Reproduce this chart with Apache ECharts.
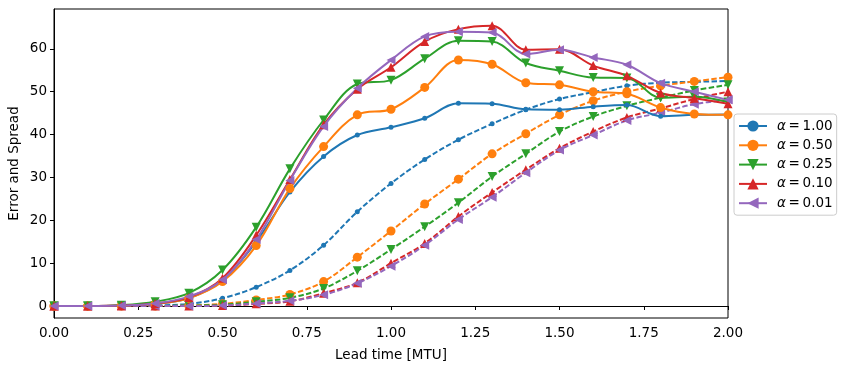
<!DOCTYPE html>
<html>
<head>
<meta charset="utf-8">
<script src="https://cdn.jsdelivr.net/npm/echarts@6/dist/echarts.min.js"></script>
<style>html,body{margin:0;padding:0;background:#fff;}#c{width:847px;height:370px;}</style>
</head>
<body>
<div id="c"></div>
<script>
var leadTime = [0.0,0.1,0.2,0.3,0.4,0.5,0.6,0.7,0.8,0.9,1.0,1.1,1.2,1.3,1.4,1.5,1.6,1.7,1.8,1.9,2.0];
var alphaLabels = ['1.00','0.50','0.25','0.10','0.01'];
var xTicks = [0,0.25,0.5,0.75,1.0,1.25,1.5,1.75,2.0];
var yTicks = [0,10,20,30,40,50,60];

// Error (solid)
var errA100 = [0,0,0.1,0.5,1.8,6.0,15.0,26.6,34.9,39.9,41.7,43.8,47.3,47.2,45.9,45.8,46.5,46.9,44.3,44.6,44.7];
var errA050 = [0,0,0.1,0.5,1.8,5.7,14.1,27.4,37.2,44.6,45.9,51.0,57.4,56.4,52.1,51.6,50.0,49.5,46.3,44.8,44.6];
var errA025 = [0,0,0.2,1.0,3.0,8.4,18.4,32.0,43.4,51.8,52.7,57.7,61.9,61.7,56.7,54.9,53.3,53.2,48.6,48.8,47.6];
var errA010 = [0,0,0.1,0.6,2.0,6.5,16.5,29.5,42.3,50.6,55.7,61.7,64.6,65.4,59.8,59.9,56.1,53.7,49.7,48.5,47.2];
var errA001 = [0,0,0.1,0.6,2.2,6.1,15.5,29.3,41.9,50.8,57.4,62.9,64.0,63.8,58.8,59.8,58.0,56.3,52.0,50.0,48.1];

// Spread (dashed)
var sprA100 = [0,0,0,0.1,0.5,1.8,4.4,8.3,14.2,22.0,28.6,34.2,38.8,42.5,45.8,48.3,49.9,51.4,52.1,52.3,52.5];
var sprA050 = [0,0,0,0,0.1,0.5,1.4,2.7,5.7,11.4,17.5,23.8,29.6,35.5,40.2,44.6,47.9,50.0,51.4,52.4,53.4];
var sprA025 = [0,0,0,0,0.1,0.3,1.0,1.9,4.1,8.2,13.2,18.5,24.1,30.2,35.5,40.7,44.2,46.7,48.6,50.3,51.6];
var sprA010 = [0,0,0,0,0,0.1,0.5,1.1,3.0,5.4,10.0,14.6,20.9,26.5,31.8,36.8,40.7,44.0,46.1,48.3,50.0];
var sprA001 = [0,0,0,0,0,0.1,0.6,1.2,2.6,5.3,9.3,14.2,20.2,25.4,31.1,36.4,39.9,43.3,45.1,47.1,48.1];

var colors = ['#1f77b4','#ff7f0e','#2ca02c','#d62728','#9467bd'];
var symbols = ['circle','circle','triangle','triangle','triangle'];
var symSizes = [5,9,9,9,9];
var symRot = [0,0,180,0,90];
var errs = [errA100,errA050,errA025,errA010,errA001];
var sprs = [sprA100,sprA050,sprA025,sprA010,sprA001];

function pairs(ys){ return leadTime.map(function(x,i){return [x, ys[i]];}); }

var FS = 13.5;
var series = [];
var legendNames = [];
for (var k=0;k<5;k++){
  var nm = 'α = ' + alphaLabels[k];
  legendNames.push(nm);
  series.push({
    name: nm, type:'line', data: pairs(errs[k]), smooth:0.35,
    symbol: symbols[k], symbolSize: symSizes[k], symbolRotate: symRot[k],
    itemStyle:{color:colors[k]}, lineStyle:{color:colors[k], width:2},
    z: 3, animation:false
  });
  series.push({
    name: 'spread ' + alphaLabels[k], type:'line', data: pairs(sprs[k]), smooth:0.35,
    symbol: symbols[k], symbolSize: symSizes[k], symbolRotate: symRot[k],
    itemStyle:{color:colors[k]}, lineStyle:{color:colors[k], width:2, type:[5.5,2.4]},
    z: 2, animation:false
  });
}

var chart = echarts.init(document.getElementById('c'), null, {renderer:'canvas'});
chart.setOption({
  animation:false,
  textStyle:{fontFamily:'DejaVu Sans'},
  grid:{left:54, right:119, top:9, bottom:52, show:true, borderColor:'#000', borderWidth:1,
        containLabel:false, outerBoundsMode:'none'},
  legend:{
    data: legendNames, orient:'vertical', left:734, top:114,
    itemWidth:28, itemHeight:14, itemGap:5.3,
    borderColor:'#cccccc', borderWidth:1, borderRadius:3, padding:[5,4,5,4],
    textStyle:{fontSize:FS, color:'#000', fontFamily:'DejaVu Sans',
      rich:{a:{fontStyle:'italic', fontSize:FS, fontFamily:'DejaVu Sans', color:'#000', padding:[0,0,0,5]},
            b:{fontSize:FS, fontFamily:'DejaVu Sans', color:'#000'}}},
    formatter:function(n){ return '{a|α}{b|\u2009=\u2009' + n.slice(4) + '}'; }
  },
  xAxis:{
    type:'value', min:0, max:2, interval:0.25,
    name:'Lead time [MTU]', nameLocation:'middle', nameGap:30, nameMoveOverlap:false,
    nameTextStyle:{fontSize:FS, color:'#000'},
    axisLine:{show:true, lineStyle:{color:'#000'}},
    axisTick:{show:true, inside:false, length:4, lineStyle:{color:'#000'}},
    axisLabel:{fontSize:FS, color:'#000', margin:8, formatter:function(v){return v.toFixed(2);}},
    splitLine:{show:false}
  },
  yAxis:{
    type:'value', min:-2.8, max:69.3,
    name:'Error and Spread', nameLocation:'middle', nameGap:33, nameMoveOverlap:false,
    nameTextStyle:{fontSize:FS, color:'#000'},
    axisLine:{show:true, lineStyle:{color:'#000'}},
    axisTick:{show:true, inside:false, length:4, lineStyle:{color:'#000'}, customValues:yTicks},
    axisLabel:{fontSize:FS, color:'#000', margin:7, customValues:yTicks},
    splitLine:{show:false}
  },
  series: series
});
</script>
</body>
</html>
